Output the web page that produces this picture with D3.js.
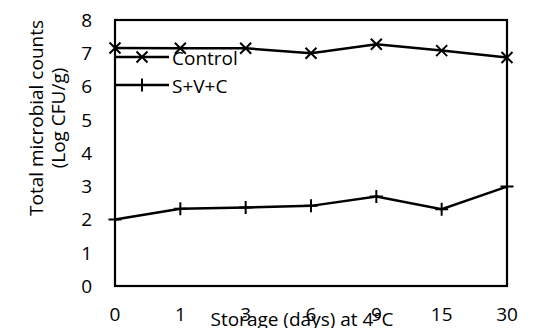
<!DOCTYPE html>
<html>
<head>
<meta charset="utf-8">
<script src="https://cdn.jsdelivr.net/npm/d3@7"></script>
<style>
  body { margin: 0; background: #fff; }
  text { font-family: "Open Sans", sans-serif; fill: #000; }
</style>
</head>
<body>
<script>
  // storage days (categorical axis)
  var days = ["0", "1", "3", "6", "9", "15", "30"];
  var control = [7.16, 7.15, 7.15, 7.0, 7.27, 7.08, 6.87];
  var svc = [2.0, 2.32, 2.36, 2.41, 2.69, 2.31, 2.99];
  var yTicks = [0, 1, 2, 3, 4, 5, 6, 7, 8];
  var seriesNames = ["Control", "S+V+C"];

  var W = 535, H = 328;
  var margin = {top: 20, right: 28, bottom: 42, left: 115};
  var fs = "19px";

  var svg = d3.select("body").append("svg")
    .attr("width", W)
    .attr("height", H);

  var x = d3.scalePoint()
    .domain(days)
    .range([margin.left, W - margin.right]);

  var y = d3.scaleLinear()
    .domain([0, 8])
    .range([H - margin.bottom, margin.top]);

  // plot frame
  svg.append("rect")
    .attr("x", margin.left)
    .attr("y", margin.top)
    .attr("width", W - margin.right - margin.left)
    .attr("height", H - margin.bottom - margin.top)
    .attr("fill", "none")
    .attr("stroke", "#000")
    .attr("stroke-width", 2.2);

  // y tick labels
  svg.selectAll(".ylab")
    .data(yTicks)
    .enter().append("text")
    .attr("x", 92)
    .attr("y", function(d) { return y(d); })
    .attr("dy", "0.36em")
    .attr("text-anchor", "end")
    .style("font-size", fs)
    .text(function(d) { return d; });

  // x tick labels
  svg.selectAll(".xlab")
    .data(days)
    .enter().append("text")
    .attr("x", function(d) { return x(d); })
    .attr("y", 321)
    .attr("text-anchor", "middle")
    .style("font-size", fs)
    .text(function(d) { return d; });

  // axis titles
  svg.append("text")
    .attr("x", 302)
    .attr("y", 326)
    .attr("text-anchor", "middle")
    .style("font-size", fs)
    .text("Storage (days) at 4°C");

  var yt = svg.append("text")
    .attr("transform", "translate(43,118) rotate(-90)")
    .attr("text-anchor", "middle")
    .style("font-size", fs);
  yt.append("tspan").attr("x", 0).attr("y", 0).text("Total microbial counts");
  yt.append("tspan").attr("x", 0).attr("y", 22).text("(Log CFU/g)");

  var line = d3.line()
    .x(function(d, i) { return x(days[i]); })
    .y(function(d) { return y(d); });

  function xMark(g, cx, cy) {
    var s = 5.5;
    g.append("path")
      .attr("d", "M" + (cx - s) + "," + (cy - s) + "L" + (cx + s) + "," + (cy + s) +
                 "M" + (cx - s) + "," + (cy + s) + "L" + (cx + s) + "," + (cy - s))
      .attr("stroke", "#000").attr("stroke-width", 2).attr("fill", "none");
  }
  function plusMark(g, cx, cy) {
    var s = 6.5;
    g.append("path")
      .attr("d", "M" + (cx - s) + "," + cy + "L" + (cx + s) + "," + cy +
                 "M" + cx + "," + (cy - s) + "L" + cx + "," + (cy + s))
      .attr("stroke", "#000").attr("stroke-width", 2).attr("fill", "none");
  }

  var series = [control, svc];
  var markers = [xMark, plusMark];

  series.forEach(function(vals, k) {
    var g = svg.append("g");
    g.append("path")
      .datum(vals)
      .attr("d", line)
      .attr("fill", "none")
      .attr("stroke", "#000")
      .attr("stroke-width", 2.5);
    vals.forEach(function(v, i) { markers[k](g, x(days[i]), y(v)); });
  });

  // legend
  var legY = [57, 85];
  seriesNames.forEach(function(name, k) {
    var g = svg.append("g");
    g.append("line")
      .attr("x1", 115).attr("x2", 169)
      .attr("y1", legY[k]).attr("y2", legY[k])
      .attr("stroke", "#000").attr("stroke-width", 2.5);
    markers[k](g, 142, legY[k]);
    g.append("text")
      .attr("x", 172)
      .attr("y", legY[k] + 1)
      .attr("dy", "0.36em")
      .style("font-size", fs)
      .text(name);
  });
</script>
</body>
</html>
